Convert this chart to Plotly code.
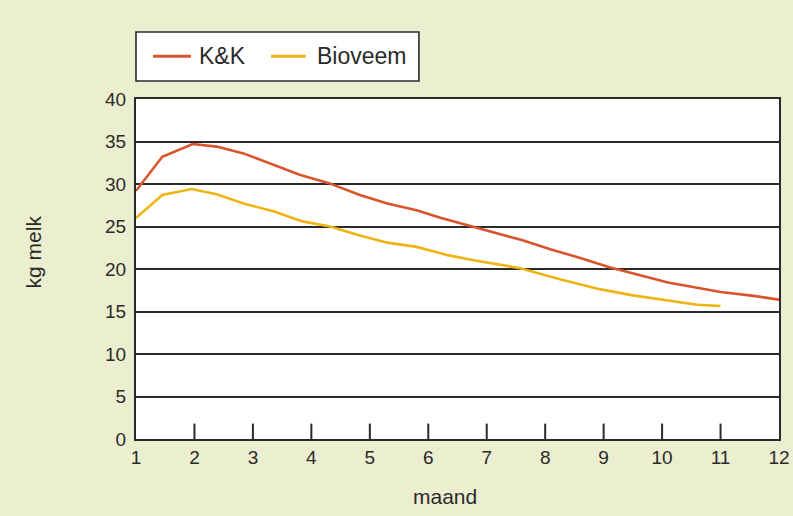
import plotly.graph_objects as go

# Lactation curves: daily milk yield (kg) per month of lactation
kk_month = [1.0, 1.45, 1.97, 2.38, 2.84, 3.3, 3.8, 4.3, 4.83, 5.3, 5.8, 6.22,
            6.7, 7.15, 7.6, 8.1, 8.6, 9.1, 9.6, 10.1, 10.6, 11.0, 11.5, 12.0]
kk_kg = [29.2, 33.2, 34.7, 34.4, 33.6, 32.4, 31.1, 30.1, 28.7, 27.7, 26.9, 26.0,
         25.1, 24.3, 23.4, 22.3, 21.3, 20.2, 19.3, 18.4, 17.8, 17.3, 16.9, 16.4]

bio_month = [1.0, 1.45, 1.95, 2.38, 2.84, 3.35, 3.85, 4.32, 4.8, 5.3, 5.8, 6.35,
             6.8, 7.57, 8.3, 8.95, 9.5, 10.1, 10.6, 11.0]
bio_kg = [26.0, 28.7, 29.4, 28.8, 27.7, 26.8, 25.6, 25.0, 24.0, 23.1, 22.6, 21.6,
          21.0, 20.1, 18.7, 17.6, 16.9, 16.3, 15.8, 15.65]

month_ticks = list(range(1, 13))
kg_ticks = list(range(0, 41, 5))

series_names = ["K&K", "Bioveem"]
series_colors = ["#D9532C", "#EFB414"]

FONT = "Liberation Sans, Arial, sans-serif"
INK = "#2a2a2a"
BG = "#ECEFCF"

fig = go.Figure()
fig.add_trace(go.Scatter(x=kk_month, y=kk_kg, mode="lines", name=series_names[0],
                         line=dict(color=series_colors[0], width=2.6)))
fig.add_trace(go.Scatter(x=bio_month, y=bio_kg, mode="lines", name=series_names[1],
                         line=dict(color=series_colors[1], width=2.6)))

# Short upward tick marks on the month axis, drawn as line markers at y=0
# (half of each marker is clipped by the frame, leaving the part inside)
fig.add_trace(go.Scatter(x=month_ticks[1:-1], y=[0] * (len(month_ticks) - 2),
                         mode="markers", hoverinfo="skip", cliponaxis=True,
                         marker=dict(symbol="line-ns", size=22,
                                     line=dict(color=INK, width=2))))

# Boxed legend above the plot area (paper coordinates)
legend_box = dict(x0=0.0, x1=0.440, y0=1.053, y1=1.197)
legend_row_y = 1.126
legend_items = [  # (line start, line end, text left)
    (0.0264, 0.0855, 0.0949),
    (0.210, 0.264, 0.278),
]

shapes = [dict(type="rect", xref="paper", yref="paper", layer="above",
               fillcolor="white", line=dict(color=INK, width=1.6), **legend_box)]
annotations = []
for name, color, (lx0, lx1, tx) in zip(series_names, series_colors, legend_items):
    shapes.append(dict(type="line", xref="paper", yref="paper",
                       x0=lx0, x1=lx1, y0=legend_row_y, y1=legend_row_y,
                       line=dict(color=color, width=3)))
    annotations.append(dict(text=name, xref="paper", yref="paper", x=tx, y=legend_row_y,
                            xanchor="left", yanchor="middle", showarrow=False,
                            font=dict(size=23, family=FONT, color=INK)))

annotations += [
    dict(text="maand", xref="paper", yref="paper", x=0.48, y=-0.17,
         xanchor="center", yanchor="middle", showarrow=False,
         font=dict(size=21, family=FONT, color=INK)),
    dict(text="kg melk", xref="paper", yref="paper", x=-0.158, y=0.55,
         xanchor="center", yanchor="middle", showarrow=False, textangle=-90,
         font=dict(size=21, family=FONT, color=INK)),
]

fig.update_layout(
    width=793, height=516,
    margin=dict(l=136, r=14, t=99, b=77, autoexpand=False),
    paper_bgcolor=BG, plot_bgcolor="white",
    font=dict(family=FONT, color=INK, size=19),
    showlegend=False,
    xaxis=dict(range=[1, 12], tickmode="array", tickvals=month_ticks, ticks="",
               showgrid=False, zeroline=False, automargin=False,
               showline=True, linecolor=INK, linewidth=2, mirror=True,
               tickfont=dict(size=19, family=FONT, color=INK)),
    yaxis=dict(range=[0, 40], tickvals=kg_ticks, ticks="",
               showgrid=True, gridcolor=INK, gridwidth=2, zeroline=False,
               showline=True, linecolor=INK, linewidth=2, mirror=True,
               automargin=False, ticklabelstandoff=4,
               tickfont=dict(size=19, family=FONT, color=INK)),
    shapes=shapes,
    annotations=annotations,
)

fig.write_html("out.html")
